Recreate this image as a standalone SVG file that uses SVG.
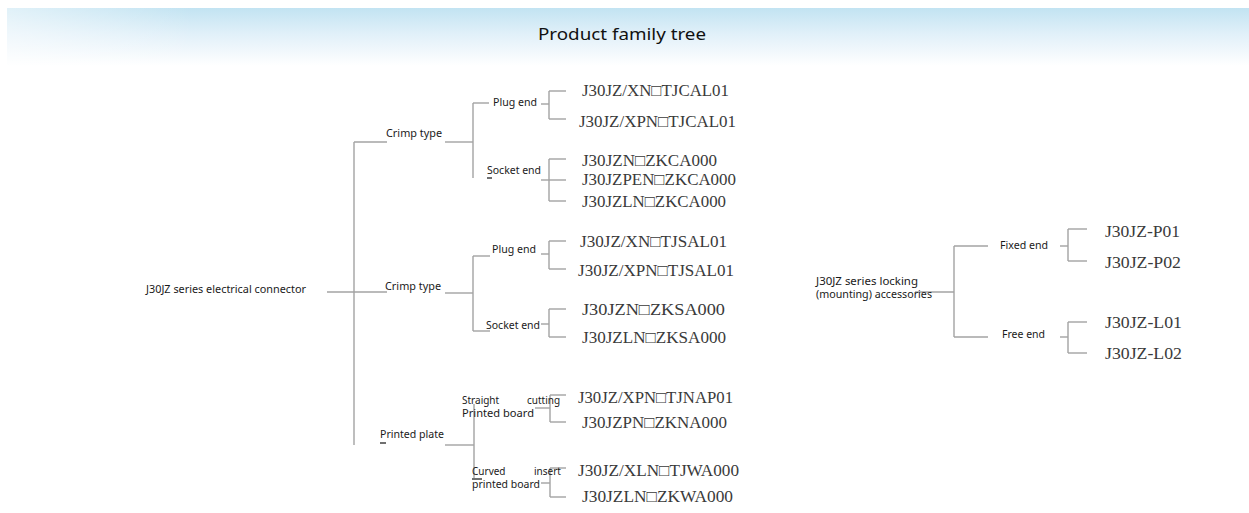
<svg xmlns="http://www.w3.org/2000/svg" width="1249" height="513" viewBox="0 0 1249 513">
<defs>
<linearGradient id="hdr" x1="0" y1="0" x2="0" y2="1">
<stop offset="0" stop-color="#c2e3f2"/>
<stop offset="0.45" stop-color="#e1f0f9"/>
<stop offset="1" stop-color="#ffffff"/>
</linearGradient>
<linearGradient id="hdrL" x1="0" y1="0" x2="1" y2="0">
<stop offset="0" stop-color="#ffffff" stop-opacity="0.5"/>
<stop offset="0.15" stop-color="#ffffff" stop-opacity="0"/>
</linearGradient>
</defs>
<style>
.s{font-family:"Noto Sans","Open Sans","DejaVu Sans",sans-serif;font-size:11px;fill:#1a1a1a}
.s2{font-family:"Noto Sans","Open Sans","DejaVu Sans",sans-serif;font-size:10px;fill:#1a1a1a}
.t{font-family:"Liberation Serif","Times New Roman","DejaVu Serif",serif;font-size:17px;fill:#3a3a3a}
.ttl{font-family:"Noto Sans","Open Sans",sans-serif;font-size:16px;fill:#111}
.c line{stroke:#a3a3a3;stroke-width:1.4;fill:none}
.u{stroke:#111;stroke-width:1.2}
</style>
<rect width="1249" height="513" fill="#ffffff"/>
<g id="header">
<rect x="7" y="8" width="1242" height="58" fill="url(#hdr)"/>
<rect x="7" y="8" width="1242" height="58" fill="url(#hdrL)"/>
<text class="ttl" x="622" y="40" text-anchor="middle" textLength="168" lengthAdjust="spacingAndGlyphs">Product family tree</text>
</g>
<g id="connectors" class="c">
<line x1="327" y1="292" x2="387" y2="292"/>
<line x1="354" y1="142" x2="354" y2="445"/>
<line x1="354" y1="142" x2="387" y2="142"/>
<line x1="445" y1="142" x2="473" y2="142"/>
<line x1="473" y1="103" x2="473" y2="178"/>
<line x1="473" y1="103" x2="489" y2="103"/>
<line x1="541" y1="104" x2="549" y2="104"/>
<line x1="549" y1="91" x2="549" y2="119"/>
<line x1="549" y1="91" x2="566" y2="91"/>
<line x1="549" y1="119" x2="566" y2="119"/>
<line x1="541" y1="180" x2="549" y2="180"/>
<line x1="549" y1="159" x2="549" y2="201"/>
<line x1="549" y1="159" x2="566" y2="159"/>
<line x1="549" y1="180" x2="566" y2="180"/>
<line x1="549" y1="201" x2="566" y2="201"/>
<line x1="445" y1="293" x2="473" y2="293"/>
<line x1="473" y1="256" x2="473" y2="331"/>
<line x1="473" y1="256" x2="490" y2="256"/>
<line x1="473" y1="331" x2="490" y2="331"/>
<line x1="541" y1="254" x2="549" y2="254"/>
<line x1="549" y1="241" x2="549" y2="269"/>
<line x1="549" y1="241" x2="566" y2="241"/>
<line x1="549" y1="269" x2="566" y2="269"/>
<line x1="541" y1="324" x2="549" y2="324"/>
<line x1="549" y1="309" x2="549" y2="337"/>
<line x1="549" y1="309" x2="566" y2="309"/>
<line x1="549" y1="337" x2="566" y2="337"/>
<line x1="445" y1="445" x2="474" y2="445"/>
<line x1="474" y1="404" x2="474" y2="478"/>
<line x1="535" y1="408" x2="550" y2="408"/>
<line x1="550" y1="395" x2="550" y2="422"/>
<line x1="550" y1="395" x2="566" y2="395"/>
<line x1="550" y1="422" x2="566" y2="422"/>
<line x1="541" y1="483" x2="550" y2="483"/>
<line x1="550" y1="468" x2="550" y2="497"/>
<line x1="550" y1="468" x2="566" y2="468"/>
<line x1="550" y1="497" x2="566" y2="497"/>
<line x1="915" y1="292" x2="954" y2="292"/>
<line x1="954" y1="246" x2="954" y2="337"/>
<line x1="954" y1="246" x2="988" y2="246"/>
<line x1="954" y1="337" x2="988" y2="337"/>
<line x1="1060" y1="246" x2="1068" y2="246"/>
<line x1="1068" y1="229" x2="1068" y2="261"/>
<line x1="1068" y1="229" x2="1087" y2="229"/>
<line x1="1068" y1="261" x2="1087" y2="261"/>
<line x1="1060" y1="337" x2="1068" y2="337"/>
<line x1="1068" y1="322" x2="1068" y2="353"/>
<line x1="1068" y1="322" x2="1087" y2="322"/>
<line x1="1068" y1="353" x2="1087" y2="353"/>
</g>
<g id="root-connector"><text class="s" x="146" y="293" textLength="160" lengthAdjust="spacingAndGlyphs">J30JZ series electrical connector</text></g>
<g id="crimp-1"><text class="s" x="386" y="137" textLength="56" lengthAdjust="spacingAndGlyphs">Crimp type</text></g>
<g id="crimp-2"><text class="s" x="385" y="290" textLength="56" lengthAdjust="spacingAndGlyphs">Crimp type</text></g>
<g id="printed-plate"><text class="s" x="380" y="438" textLength="64" lengthAdjust="spacingAndGlyphs">Printed plate</text><line class="u" x1="380" y1="443" x2="386" y2="443"/></g>
<g id="plug-1"><text class="s" x="493" y="106" textLength="44" lengthAdjust="spacingAndGlyphs">Plug end</text></g>
<g id="socket-1"><text class="s" x="487" y="174" textLength="54" lengthAdjust="spacingAndGlyphs">Socket end</text><line class="u" x1="487" y1="178" x2="492" y2="178"/></g>
<g id="plug-2"><text class="s" x="492" y="253" textLength="44" lengthAdjust="spacingAndGlyphs">Plug end</text></g>
<g id="socket-2"><text class="s" x="486" y="329" textLength="54" lengthAdjust="spacingAndGlyphs">Socket end</text></g>
<g id="straight"><text class="s2" y="404"><tspan x="462">Straight</tspan><tspan x="527">cutting</tspan></text><text class="s2" x="462" y="417" textLength="72" lengthAdjust="spacingAndGlyphs">Printed board</text></g>
<g id="curved"><text class="s2" y="475"><tspan x="472">Curved</tspan><tspan x="534">insert</tspan></text><text class="s2" x="472" y="488" textLength="68" lengthAdjust="spacingAndGlyphs">printed board</text><line class="u" x1="472" y1="479" x2="482" y2="479"/></g>
<g id="locking"><text class="s2" x="816" y="285" textLength="102" lengthAdjust="spacingAndGlyphs">J30JZ series locking</text><text class="s2" x="816" y="298" textLength="116" lengthAdjust="spacingAndGlyphs">(mounting) accessories</text></g>
<g id="fixed"><text class="s" x="1000" y="249" textLength="48" lengthAdjust="spacingAndGlyphs">Fixed end</text></g>
<g id="free"><text class="s" x="1002" y="338" textLength="43" lengthAdjust="spacingAndGlyphs">Free end</text></g>
<g id="p-cal01"><text class="t" x="582" y="96" textLength="147" lengthAdjust="spacingAndGlyphs">J30JZ/XN□TJCAL01</text></g>
<g id="p-xpn-cal01"><text class="t" x="579" y="127" textLength="157" lengthAdjust="spacingAndGlyphs">J30JZ/XPN□TJCAL01</text></g>
<g id="s-zkca"><text class="t" x="582" y="166" textLength="135" lengthAdjust="spacingAndGlyphs">J30JZN□ZKCA000</text></g>
<g id="s-pen-zkca"><text class="t" x="582" y="185" textLength="154" lengthAdjust="spacingAndGlyphs">J30JZPEN□ZKCA000</text></g>
<g id="s-ln-zkca"><text class="t" x="582" y="207" textLength="144" lengthAdjust="spacingAndGlyphs">J30JZLN□ZKCA000</text></g>
<g id="p-sal01"><text class="t" x="580" y="247" textLength="147" lengthAdjust="spacingAndGlyphs">J30JZ/XN□TJSAL01</text></g>
<g id="p-xpn-sal01"><text class="t" x="578" y="276" textLength="156" lengthAdjust="spacingAndGlyphs">J30JZ/XPN□TJSAL01</text></g>
<g id="s-zksa"><text class="t" x="582" y="315" textLength="143" lengthAdjust="spacingAndGlyphs">J30JZN□ZKSA000</text></g>
<g id="s-ln-zksa"><text class="t" x="582" y="343" textLength="144" lengthAdjust="spacingAndGlyphs">J30JZLN□ZKSA000</text></g>
<g id="p-nap01"><text class="t" x="578" y="403" textLength="155" lengthAdjust="spacingAndGlyphs">J30JZ/XPN□TJNAP01</text></g>
<g id="s-zkna"><text class="t" x="582" y="428" textLength="145" lengthAdjust="spacingAndGlyphs">J30JZPN□ZKNA000</text></g>
<g id="p-wa000"><text class="t" x="578" y="476" textLength="161" lengthAdjust="spacingAndGlyphs">J30JZ/XLN□TJWA000</text></g>
<g id="s-zkwa"><text class="t" x="582" y="502" textLength="151" lengthAdjust="spacingAndGlyphs">J30JZLN□ZKWA000</text></g>
<g id="p01"><text class="t" x="1105" y="237" textLength="75" lengthAdjust="spacingAndGlyphs">J30JZ-P01</text></g>
<g id="p02"><text class="t" x="1105" y="268" textLength="76" lengthAdjust="spacingAndGlyphs">J30JZ-P02</text></g>
<g id="l01"><text class="t" x="1105" y="328" textLength="77" lengthAdjust="spacingAndGlyphs">J30JZ-L01</text></g>
<g id="l02"><text class="t" x="1105" y="359" textLength="77" lengthAdjust="spacingAndGlyphs">J30JZ-L02</text></g>
</svg>
